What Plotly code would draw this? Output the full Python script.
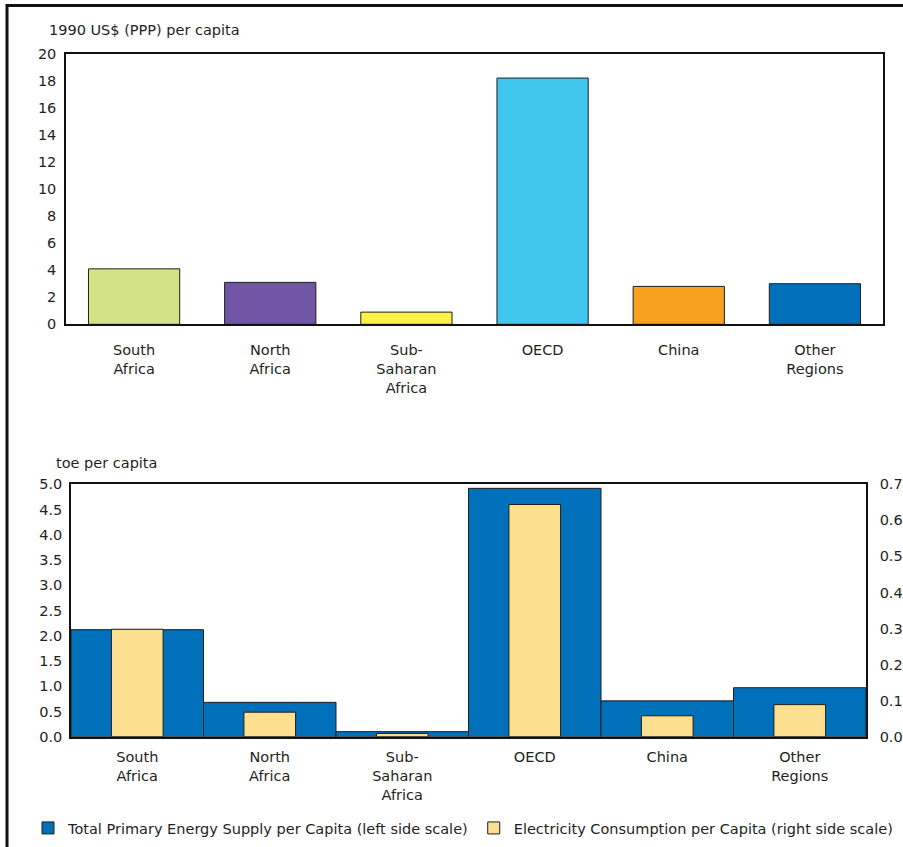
import plotly.graph_objects as go

# ---- data ----
categories = ["South<br>Africa", "North<br>Africa", "Sub-<br>Saharan<br>Africa", "OECD", "China", "Other<br>Regions"]
gdp_per_capita = [4.1, 3.1, 0.9, 18.2, 2.8, 3.0]
gdp_colors = ["#D4E286", "#7057A5", "#FFF04A", "#41C6F0", "#F7A11F", "#0070BA"]
tpes_per_capita = [2.12, 0.68, 0.10, 4.92, 0.71, 0.97]
elec_per_capita = [0.298, 0.068, 0.009, 0.644, 0.058, 0.089]
top_ticks = list(range(0, 21, 2))
left_ticks = [0.0, 0.5, 1.0, 1.5, 2.0, 2.5, 3.0, 3.5, 4.0, 4.5, 5.0]
right_ticks = [0.0, 0.1, 0.2, 0.3, 0.4, 0.5, 0.6, 0.7]

W, H = 903, 847
FONT = "DejaVu Sans"
FS = 14.5
TXT = "#231F20"
EDGE = "#1E1E1E"

def px_x(p):
    return p / W

def px_y(p):
    return 1 - p / H

fig = go.Figure()

fig.add_trace(go.Bar(
    x=list(range(len(categories))), y=gdp_per_capita,
    marker=dict(color=gdp_colors, line=dict(color=EDGE, width=1)),
    width=0.67, xaxis="x", yaxis="y", showlegend=False,
))

fig.add_trace(go.Bar(
    x=list(range(len(categories))), y=tpes_per_capita,
    name="Total Primary Energy Supply per Capita (left side scale)",
    marker=dict(color="#0070BA", line=dict(color=EDGE, width=1)),
    width=1.0, xaxis="x2", yaxis="y2",
))

fig.add_trace(go.Bar(
    x=list(range(len(categories))), y=elec_per_capita,
    name="Electricity Consumption per Capita (right side scale)",
    marker=dict(color="#FDE08F", line=dict(color=EDGE, width=1)),
    width=0.39, xaxis="x2", yaxis="y3",
))

axis_common = dict(showgrid=False, zeroline=False, showline=True, linecolor="#111111",
                   linewidth=1.5, automargin=False,
                   tickfont=dict(family=FONT, size=FS, color=TXT))

fig.update_layout(
    template="none",
    width=W, height=H, autosize=False,
    margin=dict(l=0, r=0, t=0, b=0, pad=0, autoexpand=False),
    paper_bgcolor="white", plot_bgcolor="white",
    barmode="overlay",
    font=dict(family=FONT, size=FS, color=TXT),
    xaxis=dict(domain=[px_x(66), px_x(883)], anchor="y", range=[-0.5, 5.5],
               tickvals=list(range(len(categories))), ticktext=categories,
               ticks="outside", ticklen=12, tickcolor="rgba(0,0,0,0)",
               mirror=True, **axis_common),
    yaxis=dict(domain=[px_y(324.3), px_y(53.7)], anchor="x", range=[0, 20],
               tickvals=top_ticks, ticks="outside", ticklen=5, tickcolor="rgba(0,0,0,0)",
               mirror=True, **axis_common),
    xaxis2=dict(domain=[px_x(71), px_x(866)], anchor="y2", range=[-0.5, 5.5],
                tickvals=list(range(len(categories))), ticktext=categories,
                ticks="outside", ticklen=6, tickcolor="rgba(0,0,0,0)",
                mirror=True, **axis_common),
    yaxis2=dict(domain=[px_y(736.7), px_y(484.3)], anchor="x2", range=[0, 5],
                tickvals=left_ticks, tickformat=".1f",
                ticks="outside", ticklen=4, tickcolor="rgba(0,0,0,0)",
                **axis_common),
    yaxis3=dict(overlaying="y2", side="right", anchor="x2", range=[0, 0.7],
                tickvals=right_ticks, tickformat=".1f",
                ticks="outside", ticklen=9, tickcolor="rgba(0,0,0,0)",
                **axis_common),
    showlegend=True,
    legend=dict(orientation="h", x=px_x(28), y=px_y(828), xanchor="left", yanchor="middle",
                font=dict(family=FONT, size=FS, color=TXT), bgcolor="rgba(0,0,0,0)"),
    annotations=[
        dict(text="1990 US$ (PPP) per capita", xref="paper", yref="paper",
             x=px_x(47), y=px_y(30), xanchor="left", yanchor="middle", showarrow=False,
             font=dict(family=FONT, size=FS, color=TXT)),
        dict(text="toe per capita", xref="paper", yref="paper",
             x=px_x(54), y=px_y(463), xanchor="left", yanchor="middle", showarrow=False,
             font=dict(family=FONT, size=FS, color=TXT)),
    ],
    shapes=[
        dict(type="rect", xref="paper", yref="paper",
             x0=px_x(7), x1=px_x(915), y0=px_y(870), y1=px_y(5.5),
             line=dict(color="#111111", width=3), fillcolor="rgba(0,0,0,0)", layer="below"),
    ],
)

fig.write_html(
    "out.html",
    config={"displayModeBar": False},
    post_script=(
        "document.body.style.margin='0';document.body.style.overflow='hidden';"
        "var gd=document.getElementById('{plot_id}');"
        "gd.style.position='fixed';gd.style.top='0px';gd.style.left='0px';"
    ),
)
